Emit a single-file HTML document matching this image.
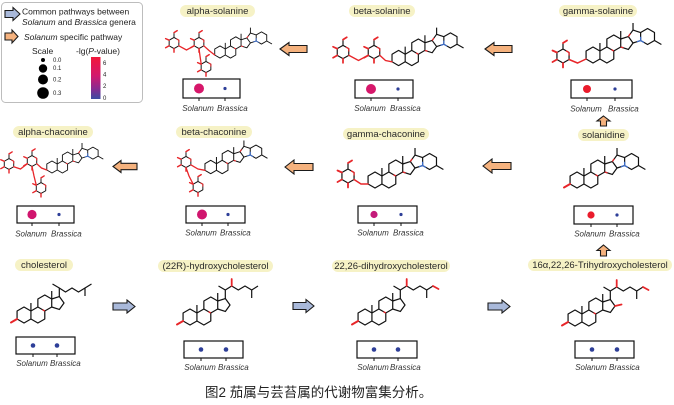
<!DOCTYPE html>
<html><head><meta charset="utf-8">
<style>
html,body{margin:0;padding:0;background:#fff;width:674px;height:405px;overflow:hidden}
svg{display:block}
.pill{fill:#f6f2c6}
.pt{font-size:9.5px;fill:#2a2a2a;text-anchor:middle}
.bx{fill:#fff;stroke:#111;stroke-width:1.2}
.tk{stroke:#111;stroke-width:1}
.lb{font-size:8px;font-style:italic;fill:#333}
.oa{fill:#f5b27e;stroke:#1a1a1a;stroke-width:1.1;stroke-linejoin:miter}
.ba{fill:#a9b9da;stroke:#1a1a1a;stroke-width:1.1;stroke-linejoin:miter}
.lg{font-size:8.5px;fill:#222}
.rd{stroke:#e8262a;fill:none;stroke-linecap:round}
.bk{stroke:#111;fill:none;stroke-width:1.2;stroke-linejoin:round}
</style></head>
<body>
<svg width="674" height="405" viewBox="0 0 674 405" xmlns="http://www.w3.org/2000/svg" font-family="Liberation Sans, Arial, sans-serif">
<defs>
<linearGradient id="grad" x1="0" y1="0" x2="0" y2="1">
<stop offset="0" stop-color="#f2183a"/>
<stop offset="0.45" stop-color="#d2196e"/>
<stop offset="0.75" stop-color="#8a2a90"/>
<stop offset="1" stop-color="#3a4ca2"/>
</linearGradient>
<g id="ster">
<g fill="none" stroke="#111" stroke-width="1.2" stroke-linejoin="round">
<path d="M0,-8 L6.93,-4 L6.93,4 L0,8 L-6.93,4 L-6.93,-4 Z"/>
<path d="M6.93,-4 L13.86,-8 L20.79,-4 L20.79,4 L13.86,8 L6.93,4"/>
<path d="M13.86,-8 L13.86,-16 L20.79,-20 L27.72,-16 L27.72,-8 L20.79,-4"/>
<path d="M27.72,-16 L35.32,-18.47 L40.02,-12 L35.32,-5.53 L27.72,-8"/>
<path d="M6.93,-4 L6.93,-12 M27.72,-16 L27.72,-24"/>
</g>
<path d="M20.79,-4 L18.5,-5.3" stroke="#e8262a" stroke-width="1.3" fill="none"/>
</g>
<g id="solx">
<g fill="none" stroke="#111" stroke-width="1.2" stroke-linejoin="round">
<path d="M35.32,-18.47 L40.02,-24.94 L47.63,-22.47 L47.63,-14.47 L40.02,-12"/>
<path d="M47.63,-22.47 L54.56,-26.47 L61.49,-22.47 L61.49,-14.47 L54.56,-10.47 L47.63,-14.47"/>
<path d="M61.49,-14.47 L68.4,-10.47 M40.02,-24.94 L40.02,-32"/>
</g>
<path d="M44,-13.3 L47.63,-14.47 L47.63,-18.3 M47.63,-14.47 L51,-12.5" stroke="#3b6cc8" stroke-width="1.3" fill="none"/>
<path d="M27.72,-8 L30.5,-7.1 M35.32,-18.47 L37.3,-21.2" stroke="#e8262a" stroke-width="1.3" fill="none"/>
</g>
<g id="sol"><use href="#ster"/><use href="#solx"/></g>
<g id="sug">
<path d="M0,-7 L6.06,-3.5 L6.06,3.5 L0,7 L-6.06,3.5 L-6.06,-3.5 Z M0,-7 L0,-13" fill="none" stroke="#111" stroke-width="1.2" stroke-linejoin="round"/>
<path d="M3,-5.25 L6.06,-3.5 L6.06,-0.5" stroke="#e8262a" stroke-width="1.3" fill="none"/>
<path d="M0,-13 L4,-15.5 M-6.06,-3.5 L-10.5,-5.5 M-6.06,3.5 L-10.5,6 M0,7 L0,11.5" stroke="#e8262a" stroke-width="1.8" fill="none" stroke-linecap="round"/>
</g>
</defs>

<!-- Legend -->
<rect x="1.5" y="2.5" width="141" height="100" rx="4" fill="#fff" stroke="#bdbdbd" stroke-width="1"/>
<path class="ba" d="M20,14 L13,7.5 L13,10.5 L5,10.5 L5,17.5 L13,17.5 L13,20.5 Z"/>
<text class="lg" x="22" y="14.5">Common pathways between</text>
<text class="lg" x="22" y="25"><tspan font-style="italic">Solanum</tspan> and <tspan font-style="italic">Brassica</tspan> genera</text>
<path class="oa" d="M18,36.5 L12,30 L12,33 L5,33 L5,40 L12,40 L12,43 Z"/>
<text class="lg" x="24" y="40"><tspan font-style="italic">Solanum</tspan> specific pathway</text>
<text x="32" y="54" font-size="8.5" fill="#222">Scale</text>
<text x="76" y="54" font-size="8.5" fill="#222">-lg(<tspan font-style="italic">P</tspan>-value)</text>
<circle cx="43" cy="60" r="2" fill="#000"/>
<circle cx="43" cy="68.5" r="4.2" fill="#000"/>
<circle cx="43" cy="79.5" r="5" fill="#000"/>
<circle cx="43" cy="93" r="5.8" fill="#000"/>
<g font-size="6" fill="#222">
<text x="53" y="62">0.0</text><text x="53" y="70">0.1</text><text x="53" y="81.5">0.2</text><text x="53" y="95">0.3</text>
</g>
<rect x="91" y="57" width="9.5" height="42" fill="url(#grad)"/>
<g font-size="6" fill="#222">
<text x="103" y="65">6</text><text x="103" y="76.5">4</text><text x="103" y="88">2</text><text x="103" y="100">0</text>
</g>

<!-- Pills -->
<rect class="pill" x="180" y="5" width="75" height="12" rx="6"/><text class="pt" x="217.5" y="14.2">alpha-solanine</text>
<rect class="pill" x="349" y="5" width="66" height="12" rx="6"/><text class="pt" x="382" y="14.2">beta-solanine</text>
<rect class="pill" x="559" y="5" width="78" height="12" rx="6"/><text class="pt" x="598" y="14.2">gamma-solanine</text>
<rect class="pill" x="13" y="126" width="80" height="12" rx="6"/><text class="pt" x="53" y="135.2">alpha-chaconine</text>
<rect class="pill" x="176" y="126" width="76" height="12" rx="6"/><text class="pt" x="214" y="135.2">beta-chaconine</text>
<rect class="pill" x="343" y="128" width="86" height="12" rx="6"/><text class="pt" x="386" y="137.2">gamma-chaconine</text>
<rect class="pill" x="578" y="129" width="51" height="12" rx="6"/><text class="pt" x="603.5" y="138.2">solanidine</text>
<rect class="pill" x="15" y="259" width="58" height="12" rx="6"/><text class="pt" x="44" y="268.2">cholesterol</text>
<rect class="pill" x="158" y="260" width="115" height="12" rx="6"/><text class="pt" x="215.5" y="269.2">(22R)-hydroxycholesterol</text>
<rect class="pill" x="332" y="260" width="118" height="12" rx="6"/><text class="pt" x="391" y="269.2">22,26-dihydroxycholesterol</text>
<rect class="pill" x="528" y="259" width="144" height="12" rx="6"/><text class="pt" x="600" y="268.2">16α,22,26-Trihydroxycholesterol</text>

<!-- Arrows -->
<path class="oa" d="M280,49 L289,42.5 L289,45.5 L307,45.5 L307,52.5 L289,52.5 L289,55.5 Z"/>
<path class="oa" d="M485,49 L494,42.5 L494,45.5 L512,45.5 L512,52.5 L494,52.5 L494,55.5 Z"/>
<path class="oa" d="M113,166.5 L121,160.5 L121,163.3 L137,163.3 L137,169.7 L121,169.7 L121,172.5 Z"/>
<path class="oa" d="M285,167 L294,160 L294,163.5 L313,163.5 L313,170.5 L294,170.5 L294,174 Z"/>
<path class="oa" d="M483,166 L492,159 L492,162.5 L511,162.5 L511,169.5 L492,169.5 L492,173 Z"/>
<path class="oa" d="M603.5,116 L610,121 L606.5,121 L606.5,126 L600.5,126 L600.5,121 L597,121 Z"/>
<path class="oa" d="M603.5,245 L610,250.5 L606.5,250.5 L606.5,256 L600.5,256 L600.5,250.5 L597,250.5 Z"/>
<path class="ba" d="M135,306.5 L127,300 L127,303 L113,303 L113,310 L127,310 L127,313 Z"/>
<path class="ba" d="M314,306 L306,299.5 L306,302.5 L293,302.5 L293,309.5 L306,309.5 L306,312.5 Z"/>
<path class="ba" d="M510,306.5 L502,300 L502,303 L488,303 L488,310 L502,310 L502,313 Z"/>

<!-- Molecules: top row -->
<use href="#sol" transform="translate(220,52) scale(0.76)"/>
<use href="#sug" transform="translate(199,43) scale(0.8)"/>
<use href="#sug" transform="translate(174,43) scale(0.8)"/>
<use href="#sug" transform="translate(206,67) scale(0.8)"/>
<path class="rd" stroke-width="1.3" d="M203.8,45.8 L209,50.5 L214.7,55 M178.8,45.8 L186.5,50 L194.2,45.8 M199,48.6 L200,56 L201.2,64.2"/>

<use href="#sol" transform="translate(398.6,58) scale(0.95)"/>
<use href="#sug" transform="translate(374,52) scale(0.95)"/>
<use href="#sug" transform="translate(343,52) scale(0.95)"/>
<path class="rd" stroke-width="1.4" d="M379.8,55.3 L385.5,60.5 L392,61.8 M348.8,55.3 L358.5,60.5 L368.2,55.3"/>

<use href="#sol" transform="translate(593,55)"/>
<use href="#sug" transform="translate(563,56)"/>
<path class="rd" stroke-width="1.5" d="M569.06,59.5 L577.5,63 L586.07,59"/>

<!-- Middle row -->
<use href="#sol" transform="translate(52,167) scale(0.75)"/>
<use href="#sug" transform="translate(32,161) scale(0.78)"/>
<use href="#sug" transform="translate(9,164) scale(0.78)"/>
<use href="#sug" transform="translate(41,188) scale(0.78)"/>
<path class="rd" stroke-width="1.3" d="M36.7,163.7 L41.5,168 L46.8,170 M13.7,166.7 L20.5,169 L27.3,163.7 M32,166.5 L34,176 L36.3,185.3"/>

<use href="#sol" transform="translate(210.7,167) scale(0.83)"/>
<use href="#sug" transform="translate(186,162) scale(0.8)"/>
<use href="#sug" transform="translate(198,187) scale(0.8)"/>
<path class="rd" stroke-width="1.3" d="M190.8,164.8 L198,169 L205,170.3 M186,167.6 L189,176 L193.2,184.2"/>

<use href="#sol" transform="translate(375,180)"/>
<use href="#sug" transform="translate(348,176)"/>
<path class="rd" stroke-width="1.5" d="M354.06,179.5 L361,184 L368.07,184"/>

<use href="#sol" transform="translate(577,180)"/>
<path class="rd" stroke-width="2" d="M570.07,184 L564,187.5"/>

<!-- Bottom row -->
<use href="#ster" transform="translate(24,315)"/>
<g transform="translate(24,315)">
<path class="bk" d="M35.32,-18.47 L35.3,-27 L28.5,-31 M35.3,-27 L41.5,-23 L48,-27 L54.5,-23 L61,-27 L67.5,-31 M61,-27 L61,-19"/>
<path class="rd" stroke-width="2" d="M-6.93,4 L-13,7.5"/>
</g>

<use href="#ster" transform="translate(190,317)"/>
<g transform="translate(190,317)">
<path class="bk" d="M35.32,-18.47 L35.3,-27 L28.5,-31 M35.3,-27 L41.7,-31 L48.3,-27 L55,-31 L61.7,-27 L68,-31 M61.7,-27 L61.7,-19"/>
<path class="rd" stroke-width="1.8" d="M41.7,-31 L41.7,-38"/>
<path class="rd" stroke-width="2" d="M-6.93,4 L-13,7.5"/>
</g>

<use href="#ster" transform="translate(365,317)"/>
<g transform="translate(365,317)">
<path class="bk" d="M35.32,-18.47 L35.3,-27 L28.5,-31 M35.3,-27 L41.7,-31 L48.3,-27 L55,-31 L61.7,-27 L68,-31 M61.7,-27 L61.7,-19"/>
<path class="rd" stroke-width="1.8" d="M41.7,-31 L41.7,-38 M68,-31 L73.5,-28"/>
<path class="rd" stroke-width="2" d="M-6.93,4 L-13,7.5"/>
</g>

<use href="#ster" transform="translate(575,318)"/>
<g transform="translate(575,318)">
<path class="bk" d="M35.32,-18.47 L35.3,-27 L28.5,-31 M35.3,-27 L41.7,-31 L48.3,-27 L55,-31 L61.7,-27 L68,-31 M61.7,-27 L61.7,-19"/>
<path class="rd" stroke-width="1.8" d="M41.7,-31 L41.7,-38 M68,-31 L73.5,-28 M40.02,-12 L46.5,-13.5"/>
<path class="rd" stroke-width="2" d="M-6.93,4 L-13,7.5"/>
</g>

<!-- Boxes -->
<g>
<rect class="bx" x="183" y="79" width="57" height="19"/>
<circle cx="199" cy="88.5" r="5" fill="#d6176a"/><circle cx="225" cy="88.5" r="1.6" fill="#2d3e98"/>
<path class="tk" d="M199,98 V101 M225,98 V101"/>
<text class="lb" x="198" y="111" text-anchor="middle">Solanum</text><text class="lb" x="217" y="111">Brassica</text>

<rect class="bx" x="355" y="80" width="58" height="18"/>
<circle cx="371" cy="89" r="5" fill="#d6176a"/><circle cx="398" cy="89" r="1.6" fill="#2d3e98"/>
<path class="tk" d="M371,98 V101 M398,98 V101"/>
<text class="lb" x="370" y="111" text-anchor="middle">Solanum</text><text class="lb" x="390" y="111">Brassica</text>

<rect class="bx" x="571" y="80" width="61" height="18"/>
<circle cx="587" cy="89" r="4" fill="#ea1c2c"/><circle cx="615" cy="89" r="1.6" fill="#2d3e98"/>
<path class="tk" d="M587,98 V101 M615,98 V101"/>
<text class="lb" x="586" y="111.5" text-anchor="middle">Solanum</text><text class="lb" x="608" y="111.5">Brassica</text>

<rect class="bx" x="17" y="206" width="57" height="17"/>
<circle cx="32" cy="214.5" r="4.6" fill="#d0156e"/><circle cx="59" cy="214.5" r="1.6" fill="#2d3e98"/>
<path class="tk" d="M32,223 V226 M59,223 V226"/>
<text class="lb" x="31" y="236.5" text-anchor="middle">Solanum</text><text class="lb" x="51" y="236.5">Brassica</text>

<rect class="bx" x="186" y="206" width="59" height="17"/>
<circle cx="202" cy="214.5" r="5" fill="#d0156e"/><circle cx="228" cy="214.5" r="1.6" fill="#2d3e98"/>
<path class="tk" d="M202,223 V226 M228,223 V226"/>
<text class="lb" x="201" y="235.5" text-anchor="middle">Solanum</text><text class="lb" x="220" y="235.5">Brassica</text>

<rect class="bx" x="358" y="206" width="59" height="17"/>
<circle cx="374" cy="214.5" r="3.6" fill="#c41a7a"/><circle cx="401" cy="214.5" r="1.6" fill="#2d3e98"/>
<path class="tk" d="M374,223 V226 M401,223 V226"/>
<text class="lb" x="373" y="235.5" text-anchor="middle">Solanum</text><text class="lb" x="393" y="235.5">Brassica</text>

<rect class="bx" x="574" y="206" width="59" height="18"/>
<circle cx="591" cy="215" r="3.6" fill="#ea1c2c"/><circle cx="617" cy="215" r="1.6" fill="#2d3e98"/>
<path class="tk" d="M591,224 V227 M617,224 V227"/>
<text class="lb" x="590" y="236.5" text-anchor="middle">Solanum</text><text class="lb" x="609" y="236.5">Brassica</text>

<rect class="bx" x="16" y="337" width="59" height="17"/>
<circle cx="33" cy="345.5" r="2.3" fill="#2d3e98"/><circle cx="57" cy="345.5" r="2.3" fill="#2d3e98"/>
<path class="tk" d="M33,354 V357 M57,354 V357"/>
<text class="lb" x="32" y="366" text-anchor="middle">Solanum</text><text class="lb" x="50" y="366">Brassica</text>

<rect class="bx" x="184" y="341" width="59" height="17"/>
<circle cx="201" cy="349.5" r="2.3" fill="#2d3e98"/><circle cx="226" cy="349.5" r="2.3" fill="#2d3e98"/>
<path class="tk" d="M201,358 V361 M226,358 V361"/>
<text class="lb" x="200" y="370" text-anchor="middle">Solanum</text><text class="lb" x="218" y="370">Brassica</text>

<rect class="bx" x="357" y="341" width="60" height="17"/>
<circle cx="374" cy="349.5" r="2.3" fill="#2d3e98"/><circle cx="398" cy="349.5" r="2.3" fill="#2d3e98"/>
<path class="tk" d="M374,358 V361 M398,358 V361"/>
<text class="lb" x="373" y="370" text-anchor="middle">Solanum</text><text class="lb" x="390" y="370">Brassica</text>

<rect class="bx" x="575" y="341" width="59" height="17"/>
<circle cx="592" cy="349.5" r="2.3" fill="#2d3e98"/><circle cx="617" cy="349.5" r="2.3" fill="#2d3e98"/>
<path class="tk" d="M592,358 V361 M617,358 V361"/>
<text class="lb" x="591" y="370" text-anchor="middle">Solanum</text><text class="lb" x="609" y="370">Brassica</text>
</g>

<!-- Caption -->
<text x="205" y="397" font-size="13.5" fill="#222" font-family="Liberation Sans, Noto Sans CJK SC, sans-serif">图2 茄属与芸苔属的代谢物富集分析。</text>
</svg>
</body></html>
